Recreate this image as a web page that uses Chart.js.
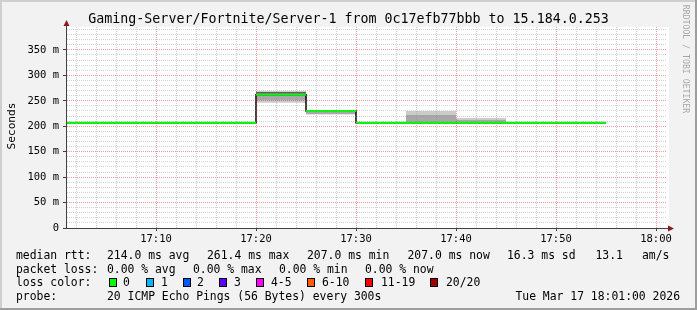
<!DOCTYPE html>
<html>
<head>
<meta charset="utf-8">
<script src="https://cdn.jsdelivr.net/npm/chart.js@4/dist/chart.umd.min.js"></script>
<style>
  html, body { margin: 0; padding: 0; background: #f2f2f2; }
  canvas { display: block; }
</style>
</head>
<body>
<canvas id="chart" width="697" height="310"></canvas>
<script>
// --- data (ms) ---
const intervalStarts = ["17:00", "17:05", "17:10", "17:15", "17:20", "17:25", "17:30", "17:35", "17:40", "17:45", "17:50"];
const intervalLength = 5; // minutes per step
const medianRtt    = [207, 207, 207, 207, 262, 230, 207, 207, 207, 207, 207];
const smokeOuterLo = [null, null, null, null, 246, 223, null, 207, 207, null, null];
const smokeOuterHi = [null, null, null, null, 268, 231, null, 230, 216, null, null];
const smokeMidLo   = [null, null, null, null, 251, 224, null, 207, 207, null, null];
const smokeMidHi   = [null, null, null, null, 263, 230, null, 222, 212, null, null];
const smokeInnerLo = [null, null, null, null, 264, null, null, null, null, null, null];
const smokeInnerHi = [null, null, null, null, 268, null, null, null, null, null, null];

const xRange = ["17:01", "18:01"];
const xTickLabels = ["17:10", "17:20", "17:30", "17:40", "17:50", "18:00"];
const xMinorStep = 2;
const yMax = 395;
const yTickValues = [0, 50, 100, 150, 200, 250, 300, 350];
const yTickLabels = ["0", "50 m", "100 m", "150 m", "200 m", "250 m", "300 m", "350 m"];
const yMinorStep = 10;

const titleText = "Gaming-Server/Fortnite/Server-1 from 0c17efb77bbb to 15.184.0.253";
const yTitle = "Seconds";
const watermark = "RRDTOOL / TOBI OETIKER";
const rttStats = ["214.0 ms avg", "261.4 ms max", "207.0 ms min", "207.0 ms now", "16.3 ms sd", "13.1", "am/s"];
const lossStats = ["0.00 % avg", "0.00 % max", "0.00 % min", "0.00 % now"];
const lossLabels = ["0", "1", "2", "3", "4-5", "6-10", "11-19", "20/20"];
const lossColors = ["#00ff00", "#00b8ff", "#0059ff", "#5e00ff", "#ff00ff", "#ff5e00", "#ff0000", "#a10000"];
const probeText = "20 ICMP Echo Pings (56 Bytes) every 300s";
const stampText = "Tue Mar 17 18:01:00 2026";

function toMin(t) {
    const [h, m] = t.split(":").map(Number);
    return (h - 17) * 60 + m;
}

// turn per-interval values into step points; split=true leaves a gap after each step
function stepPoints(values, split) {
    const pts = [];
    intervalStarts.forEach((t, i) => {
        const x0 = toMin(t), x1 = x0 + intervalLength, v = values[i];
        if (v == null) { pts.push({x: x0, y: null}); return; }
        pts.push({x: x0, y: v}, {x: x1, y: v});
        if (split) pts.push({x: x1, y: null});
    });
    return pts;
}

const MONO = "'DejaVu Sans Mono', monospace";
const hidden = {borderWidth: 0, borderColor: 'rgba(0,0,0,0)', fill: false};

const datasets = [
    {label: 'median', data: stepPoints(medianRtt, true), borderColor: '#00ff00', borderWidth: 2, borderCapStyle: 'butt', fill: false},
    {label: 'median edge', data: stepPoints(medianRtt, false), borderColor: '#000000', borderWidth: 1.5, fill: false},
    Object.assign({label: 'inner lo', data: stepPoints(smokeInnerLo, false)}, hidden),
    {label: 'inner hi', data: stepPoints(smokeInnerHi, false), borderWidth: 0, borderColor: 'rgba(0,0,0,0)', fill: '-1', backgroundColor: '#5f5f5f'},
    Object.assign({label: 'mid lo', data: stepPoints(smokeMidLo, false)}, hidden),
    {label: 'mid hi', data: stepPoints(smokeMidHi, false), borderWidth: 0, borderColor: 'rgba(0,0,0,0)', fill: '-1', backgroundColor: '#a8a8a8'},
    Object.assign({label: 'outer lo', data: stepPoints(smokeOuterLo, false)}, hidden),
    {label: 'outer hi', data: stepPoints(smokeOuterHi, false), borderWidth: 0, borderColor: 'rgba(0,0,0,0)', fill: '-1', backgroundColor: '#cbcbcb'}
];

const minorGrid = 'rgba(140,140,140,0.4)';
const majorGrid = 'rgba(225,50,50,0.48)';

const decor = {
    id: 'decor',
    beforeDraw(chart) {
        const {ctx, chartArea: a, width, height} = chart;
        ctx.save();
        ctx.fillStyle = '#f2f2f2';
        ctx.fillRect(0, 0, width, height);
        ctx.fillStyle = '#cfcfcf';
        ctx.fillRect(0, 0, width, 2);
        ctx.fillRect(0, 0, 2, height);
        ctx.fillStyle = '#9e9e9e';
        ctx.fillRect(0, height - 2, width, 2);
        ctx.fillRect(width - 2, 0, 2, height);
        ctx.fillStyle = '#ffffff';
        ctx.fillRect(a.left, a.top, a.right - a.left + 3, a.bottom - a.top);
        ctx.restore();
    },
    afterDraw(chart) {
        const {ctx, chartArea: a, width} = chart;
        ctx.save();
        // axis extensions and arrows
        ctx.strokeStyle = '#404040';
        ctx.lineWidth = 1;
        ctx.beginPath();
        ctx.moveTo(a.left + 0.5, a.top);
        ctx.lineTo(a.left + 0.5, a.top - 3);
        ctx.moveTo(a.right, a.bottom + 0.5);
        ctx.lineTo(a.right + 3, a.bottom + 0.5);
        ctx.stroke();
        ctx.fillStyle = '#8b1a1a';
        ctx.beginPath();
        ctx.moveTo(a.left + 0.5, a.top - 7);
        ctx.lineTo(a.left + 3.5, a.top - 1);
        ctx.lineTo(a.left - 2.5, a.top - 1);
        ctx.closePath();
        ctx.fill();
        ctx.beginPath();
        ctx.moveTo(a.right + 8, a.bottom + 0.5);
        ctx.lineTo(a.right + 2, a.bottom - 2.5);
        ctx.lineTo(a.right + 2, a.bottom + 3.5);
        ctx.closePath();
        ctx.fill();

        // title
        ctx.fillStyle = '#000';
        ctx.font = '13.3px ' + MONO;
        ctx.textAlign = 'center';
        ctx.textBaseline = 'alphabetic';
        ctx.fillText(titleText, width / 2, 23);

        // y title
        ctx.save();
        ctx.translate(15, 126);
        ctx.rotate(-Math.PI / 2);
        ctx.font = '11.2px ' + MONO;
        ctx.fillText(yTitle, 0, 0);
        ctx.restore();

        // watermark
        ctx.save();
        ctx.translate(683, 59);
        ctx.rotate(Math.PI / 2);
        ctx.font = '8.2px ' + MONO;
        ctx.fillStyle = 'rgba(0,0,0,0.32)';
        ctx.fillText(watermark, 0, 0);
        ctx.restore();

        // legend
        ctx.font = '11.4px ' + MONO;
        ctx.textAlign = 'left';
        ctx.fillStyle = '#000';
        const row = [259, 272.5, 286, 299.5];
        ctx.fillText('median rtt:', 16, row[0]);
        [107, 207, 307, 407.5, 507, 595.5, 642].forEach((x, i) => ctx.fillText(rttStats[i], x, row[0]));
        ctx.fillText('packet loss:', 16, row[1]);
        [107, 193, 279, 365].forEach((x, i) => ctx.fillText(lossStats[i], x, row[1]));
        ctx.fillText('loss color:', 16, row[2]);
        const boxX = [109, 146, 183, 219, 256, 307, 365, 430];
        const labX = [123, 161, 197, 234, 271, 322, 381, 446];
        lossLabels.forEach((l, i) => {
            ctx.fillStyle = lossColors[i];
            ctx.fillRect(boxX[i], 278, 8, 9);
            ctx.strokeStyle = '#000';
            ctx.strokeRect(boxX[i] + 0.5, 278.5, 7, 8);
            ctx.fillStyle = '#000';
            ctx.fillText(l, labX[i], row[2]);
        });
        ctx.fillText('probe:', 16, row[3]);
        ctx.fillText(probeText, 107, row[3]);
        ctx.textAlign = 'right';
        ctx.fillText(stampText, 680, row[3]);
        ctx.restore();
    }
};

new Chart(document.getElementById('chart'), {
    type: 'line',
    data: {datasets: datasets},
    plugins: [decor],
    options: {
        responsive: false,
        animation: false,
        layout: {padding: {left: 0, top: 27, right: 31, bottom: 0}},
        elements: {point: {radius: 0}, line: {tension: 0}},
        plugins: {legend: {display: false}, tooltip: {enabled: false}},
        scales: {
            x: {
                type: 'linear',
                min: toMin(xRange[0]),
                max: toMin(xRange[1]),
                afterBuildTicks: (sc) => {
                    const t = [];
                    for (let v = Math.ceil(sc.min / xMinorStep) * xMinorStep; v < sc.max; v += xMinorStep) t.push({value: v});
                    sc.ticks = t;
                },
                afterFit: (sc) => { sc.height = 82; },
                ticks: {
                    autoSkip: false,
                    maxRotation: 0,
                    padding: 2,
                    color: '#000',
                    font: {family: MONO, size: 10.5},
                    callback: (v) => {
                        const l = xTickLabels.find((s) => toMin(s) === v);
                        return l || '';
                    }
                },
                grid: {
                    z: 1,
                    lineWidth: 1,
                    tickLength: 3,
                    color: (c) => xTickLabels.some((s) => toMin(s) === c.tick.value) ? majorGrid : minorGrid,
                    tickColor: (c) => xTickLabels.some((s) => toMin(s) === c.tick.value) ? '#404040' : 'rgba(0,0,0,0)'
                },
                border: {z: 2, color: '#404040', width: 1, dash: [1, 1]}
            },
            y: {
                min: 0,
                max: yMax,
                afterBuildTicks: (sc) => {
                    const t = [];
                    for (let v = 0; v <= sc.max; v += yMinorStep) t.push({value: v});
                    sc.ticks = t;
                },
                afterFit: (sc) => { sc.width = 66; },
                ticks: {
                    autoSkip: false,
                    padding: 4,
                    color: '#000',
                    font: {family: MONO, size: 10.5},
                    callback: (v) => {
                        const i = yTickValues.indexOf(v);
                        return i >= 0 ? yTickLabels[i] : '';
                    }
                },
                grid: {
                    z: 1,
                    lineWidth: 1,
                    tickLength: 3,
                    color: (c) => yTickValues.includes(c.tick.value) ? majorGrid : minorGrid,
                    tickColor: (c) => yTickValues.includes(c.tick.value) ? '#404040' : 'rgba(0,0,0,0)'
                },
                border: {z: 2, color: '#404040', width: 1, dash: [1, 1]}
            }
        }
    }
});
</script>
</body>
</html>
